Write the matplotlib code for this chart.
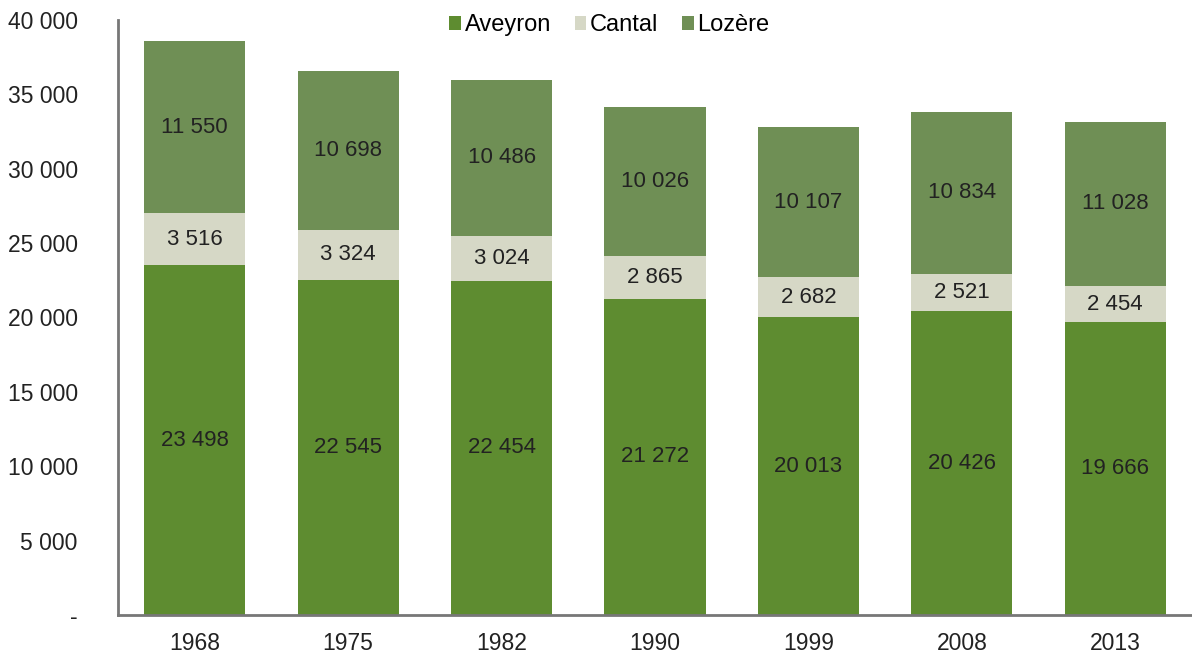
import numpy as np
import matplotlib.pyplot as plt
from matplotlib.ticker import FuncFormatter

plt.rcParams['font.family'] = ['Liberation Sans', 'DejaVu Sans']

years = ["1968", "1975", "1982", "1990", "1999", "2008", "2013"]
aveyron = [23498, 22545, 22454, 21272, 20013, 20426, 19666]
cantal = [3516, 3324, 3024, 2865, 2682, 2521, 2454]
lozere = [11550, 10698, 10486, 10026, 10107, 10834, 11028]

colors = {"Aveyron": "#5e8c30", "Cantal": "#d6d8c6", "Lozère": "#6f8f55"}


def fmt(v):
    return f"{v:,.0f}".replace(",", " ")


fig = plt.figure(figsize=(11.92, 6.62), dpi=100)
ax = fig.add_axes([0.099, 0.071, 0.901, 0.899])

x = np.arange(len(years))
w = 0.66
bottom = np.zeros(len(years))
for name, vals in [("Aveyron", aveyron), ("Cantal", cantal), ("Lozère", lozere)]:
    vals = np.array(vals)
    ax.bar(x, vals, w, bottom=bottom, color=colors[name], label=name)
    for xi, b, v in zip(x, bottom, vals):
        ax.text(xi, b + v / 2, fmt(v), ha='center', va='center',
                fontsize=16, color='#222222')
    bottom += vals

ax.set_xlim(-0.5, 6.5)
ax.set_ylim(0, 40000)
ax.set_yticks(np.arange(0, 40001, 5000))
ax.yaxis.set_major_formatter(FuncFormatter(lambda v, p: "-" if v == 0 else fmt(v)))
ax.set_xticks(x)
ax.set_xticklabels(years)
ax.tick_params(axis='both', length=0, labelsize=16.5, colors='#222222')
ax.tick_params(axis='y', pad=29)
ax.tick_params(axis='x', pad=12)
for s in ['top', 'right']:
    ax.spines[s].set_visible(False)
for s in ['left', 'bottom']:
    ax.spines[s].set_color('#777777')
    ax.spines[s].set_linewidth(2)

ax.legend(loc='upper center', bbox_to_anchor=(0.4575, 1.045), ncol=3, frameon=False,
          fontsize=17, handlelength=0.5, handleheight=0.5, handletextpad=0.15,
          columnspacing=1.0)

fig.savefig("out.png", dpi=100)
